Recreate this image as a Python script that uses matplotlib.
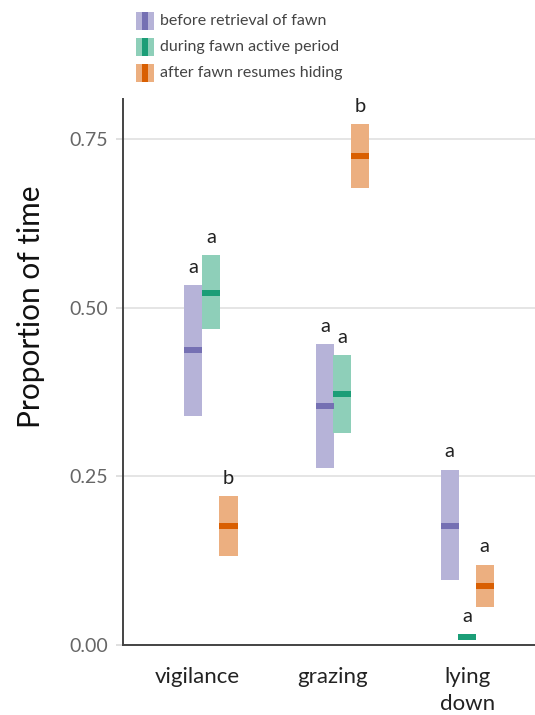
import matplotlib
matplotlib.use("Agg")
import matplotlib.pyplot as plt
from matplotlib.patches import Rectangle
import numpy as np

plt.rcParams['font.family'] = ['Lato', 'DejaVu Sans']

# ---- data ----
categories = ["vigilance", "grazing", "lying\ndown"]
series = ["before retrieval of fawn", "during fawn active period", "after fawn resumes hiding"]
means = {
    "before": [0.438, 0.354, 0.177],
    "during": [0.522, 0.372, 0.012],
    "after":  [0.177, 0.726, 0.088],
}
lower = {
    "before": [0.340, 0.263, 0.096],
    "during": [0.469, 0.315, 0.008],
    "after":  [0.132, 0.678, 0.057],
}
upper = {
    "before": [0.534, 0.446, 0.260],
    "during": [0.578, 0.430, 0.016],
    "after":  [0.221, 0.773, 0.119],
}
letters = {
    "before": ["a", "a", "a"],
    "during": ["a", "a", "a"],
    "after":  ["b", "b", "a"],
}
yticks = [0.00, 0.25, 0.50, 0.75]
ytick_labels = ["0.00", "0.25", "0.50", "0.75"]

# ---- styling / layout ----
keys = ["before", "during", "after"]
dark = {"before": "#7570b3", "during": "#1b9e77", "after": "#d95f02"}
light = {"before": "#b6b3d8", "during": "#8ecfb9", "after": "#ecaf80"}
offsets = {
    "before": [-0.033, -0.054, -0.130],
    "during": [0.100, 0.072, 0.000],
    "after":  [0.230, 0.206, 0.130],
}
bw = 0.134

fig = plt.figure(figsize=(5.35, 7.15), dpi=100)
ax = fig.add_axes([0.2299, 0.0979, 0.7701, 0.7636])

for k in keys:
    for i in range(len(categories)):
        x = i + offsets[k][i]
        lo, hi, m = lower[k][i], upper[k][i], means[k][i]
        ax.add_patch(Rectangle((x - bw / 2, lo), bw, hi - lo, facecolor=light[k],
                               edgecolor="none", zorder=3))
        ax.add_patch(Rectangle((x - bw / 2, m - 0.0045), bw, 0.009, facecolor=dark[k],
                               edgecolor="none", zorder=4))
        ax.text(x, hi + 0.014, letters[k][i], ha="center", va="bottom",
                fontsize=14.5, color="#222222", zorder=5)

ax.set_xlim(-0.553, 2.504)
ax.set_ylim(0, 0.810)
ax.set_xticks(range(len(categories)))
ax.set_xticklabels(categories, fontsize=16, color="#222222", linespacing=1.45)
ax.set_yticks(yticks)
ax.set_yticklabels(ytick_labels, fontsize=14, color="#666666")
ax.tick_params(axis="y", length=5, color="#dddddd", width=1.3, pad=6)
ax.tick_params(axis="x", length=0, pad=16)
ax.grid(axis="y", color="#e3e3e3", linewidth=1.3, zorder=0)
ax.set_axisbelow(True)
for s in ["top", "right"]:
    ax.spines[s].set_visible(False)
for s in ["left", "bottom"]:
    ax.spines[s].set_color("#444444")
    ax.spines[s].set_linewidth(1.4)
ax.set_ylabel("Proportion of time", fontsize=21.5, color="#111111")
ax.yaxis.set_label_coords(-0.19, 0.619)

# ---- legend drawn manually ----
W, H = 535.0, 715.0
row_y = [21, 47, 73]
for k, lab, yc in zip(keys, series, row_y):
    fig.patches.append(Rectangle((136 / W, 1 - (yc + 9) / H), 18 / W, 18 / H,
                                 transform=fig.transFigure, facecolor=light[k],
                                 edgecolor="none"))
    fig.patches.append(Rectangle((141.5 / W, 1 - (yc + 9) / H), 6.5 / W, 18 / H,
                                 transform=fig.transFigure, facecolor=dark[k],
                                 edgecolor="none"))
    fig.text(160 / W, 1 - yc / H, lab, fontsize=11.5, color="#444444",
             ha="left", va="center")

fig.savefig("out.png", dpi=100)
